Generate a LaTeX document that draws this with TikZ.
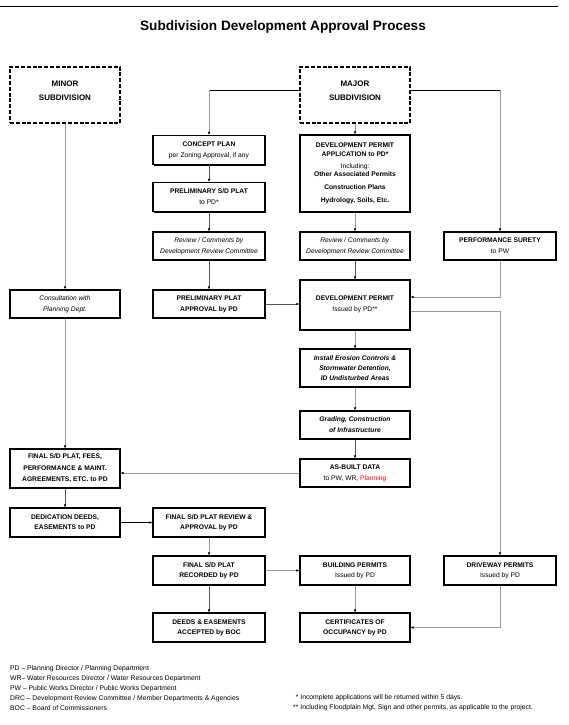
\documentclass[tikz,border=0pt]{standalone}
\usepackage{fontspec}
\setmainfont{Liberation Sans}
\usetikzlibrary{arrows.meta,shadows,positioning}
\definecolor{lnd}{HTML}{555555}
\definecolor{lnl}{HTML}{999999}
\begin{document}
\begin{tikzpicture}[x=1pt,y=-1pt,
  box/.style={draw=black, line width=1.1pt, fill=white, align=center, inner sep=1pt,
    font=\fontsize{6.7}{11}\selectfont,
    drop shadow={shadow xshift=1.1pt, shadow yshift=-1.1pt, fill=black, opacity=1}},
  dbox/.style={draw=black, line width=1.2pt, dash pattern=on 4pt off 1.8pt, fill=white,
    align=center, font=\fontsize{8}{14}\selectfont\bfseries,
    minimum width=110pt, minimum height=56pt, text depth=8pt},
  w1/.style={minimum width=112pt},
  w2/.style={minimum width=110pt},
  arr/.style={-{Latex[length=3pt,width=2.6pt,color=black]}, line width=0.7pt},
  dk/.style={draw=lnd},
  lt/.style={draw=lnl},
  bk/.style={draw=black}
]
\useasboundingbox (0,0) rectangle (568,725);
\fill[white] (0,0) rectangle (568,725);
\draw[line width=0.8pt] (0,6) -- (558,6);
\node[font=\fontsize{13.6}{15}\selectfont\bfseries] (title) at (283,27) {Subdivision Development Approval Process};

% dashed start boxes
\node[dbox] (minor) at (65,95) {MINOR\\SUBDIVISION};
\node[dbox] (major) at (355,95) {MAJOR\\SUBDIVISION};

% left-middle column
\node[box,w1,minimum height=29pt] (concept) at (209,150) {\textbf{CONCEPT PLAN}\\per Zoning Approval, if any};
\node[box,w1,minimum height=29pt] (prelim) at (209,197) {\textbf{PRELIMINARY S/D PLAT}\\to PD*};
\node[box,w1,minimum height=28pt] (revL) at (209,246) {\textit{Review / Comments by}\\\textit{Development Review Committee}};
\node[box,w1,minimum height=28pt] (papp) at (209,304) {\textbf{PRELIMINARY PLAT}\\\textbf{APPROVAL by PD}};

% middle column
\node[box,w2,minimum height=77pt,font=\fontsize{6.7}{9.5}\selectfont] (devapp) at (355,173.5) {\textbf{DEVELOPMENT PERMIT}\\\textbf{APPLICATION to PD*}\\[2pt]Including:\\[-1pt]\textbf{Other Associated Permits}\\[3pt]\textbf{Construction Plans}\\[4pt]\textbf{Hydrology, Soils, Etc.}};
\node[box,w2,minimum height=28pt] (revR) at (355,246) {\textit{Review / Comments by}\\\textit{Development Review Committee}};
\node[box,w2,minimum height=50pt,text depth=3pt] (devp) at (355,305) {\textbf{DEVELOPMENT PERMIT}\\Issued by PD**};
\node[box,w2,minimum height=38pt,font=\fontsize{6.7}{10}\selectfont] (eros) at (355,368) {\textbf{\textit{Install Erosion Controls \&}}\\\textbf{\textit{Stormwater Detention,}}\\\textbf{\textit{ID Undisturbed Areas}}};
\node[box,w2,minimum height=28pt] (grad) at (355,425) {\textbf{\textit{Grading, Construction}}\\\textbf{\textit{of Infrastructure}}};
\node[box,w2,minimum height=28pt] (asb) at (355,473) {\textbf{AS-BUILT DATA}\\to PW, WR, \textcolor{red}{Planning}};

% right column
\node[box,w1,minimum height=28pt] (surety) at (500,246) {\textbf{PERFORMANCE SURETY}\\to PW};

% left column
\node[box,w2,minimum height=28pt] (consult) at (65,304) {\textit{Consultation with}\\\textit{Planning Dept.}};
\node[box,w2,minimum height=39pt,font=\fontsize{6.7}{11.5}\selectfont\bfseries] (final) at (65,468.5) {FINAL S/D PLAT, FEES,\\PERFORMANCE \& MAINT.\\AGREEMENTS, ETC. to PD};
\node[box,w2,minimum height=29pt,font=\fontsize{6.7}{10}\selectfont\bfseries] (dedic) at (65,522.5) {DEDICATION DEEDS,\\EASEMENTS to PD};

% bottom rows
\node[box,w1,minimum height=29pt,font=\fontsize{6.7}{10}\selectfont\bfseries] (frev) at (209,522.5) {FINAL S/D PLAT REVIEW \&\\APPROVAL by PD};
\node[box,w1,minimum height=29pt,font=\fontsize{6.7}{10}\selectfont] (frec) at (209,570.5) {\textbf{FINAL S/D PLAT}\\\textbf{RECORDED by PD}};
\node[box,w2,minimum height=29pt,font=\fontsize{6.7}{10}\selectfont] (bldg) at (355,570.5) {\textbf{BUILDING PERMITS}\\Issued by PD};
\node[box,w1,minimum height=29pt,font=\fontsize{6.7}{10}\selectfont] (drive) at (500,570.5) {\textbf{DRIVEWAY PERMITS}\\Issued by PD};
\node[box,w1,minimum height=29pt,font=\fontsize{6.7}{10}\selectfont\bfseries] (deeds) at (209,627.5) {DEEDS \& EASEMENTS\\ACCEPTED by BOC};
\node[box,w2,minimum height=29pt,font=\fontsize{6.7}{10}\selectfont\bfseries] (cert) at (355,627.5) {CERTIFICATES OF\\OCCUPANCY by PD};

% connectors from start boxes
\coordinate (mjL) at (209,90);
\coordinate (mjR) at (500,90);
\draw[bk,line width=0.7pt] (major.west |- mjL) -- (mjL);
\draw[bk,line width=0.7pt] (major.east |- mjR) -- (mjR);
\draw[arr,lt] (mjL) -- (concept.north);
\draw[arr,lt] (mjR) -- (surety.north);
\draw[arr,lt] (major.south) -- (devapp.north);
\draw[arr,lt] (minor.south) -- (consult.north);

% left-middle column
\draw[arr,dk] (concept) -- (prelim);
\draw[arr,dk] (prelim) -- (revL);
\draw[arr,dk] (revL) -- (papp);
\draw[arr,dk] (papp.east) -- (devp.west |- papp.east);

% middle column
\draw[arr,lt] (devapp) -- (revR);
\draw[arr,dk] (revR) -- (devp);
\draw[arr,lt] (devp) -- (eros);
\draw[arr,lt] (eros) -- (grad);
\draw[arr,dk] (grad) -- (asb);

% surety and driveway links
\coordinate (sK) at (500,297);
\draw[arr,lt] (surety.south) -- (sK) -- (devp.east |- sK);
\coordinate (dK) at (500,311);
\draw[arr,lt] (devp.east |- dK) -- (dK) -- (drive.north);

% as-built to final
\draw[arr,lt] (asb.west) -- (final.east |- asb.west);
\draw[arr,lt] (consult.south) -- (final.north);
\draw[arr,dk] (final) -- (dedic);
\draw[arr,bk] (dedic) -- (frev);
\draw[arr,lt] (frev) -- (frec);
\draw[arr,dk] (frec) -- (deeds);
\draw[arr,lt] (frec) -- (bldg);
\draw[arr,lt] (bldg) -- (cert);
\coordinate (cK) at (500,627.5);
\draw[arr,lt] (drive.south) -- (cK) -- (cert.east);

% legend
\node[anchor=west, align=left, font=\fontsize{6.8}{10}\selectfont, inner sep=0pt] (legend) at (10,688)
  {PD -- Planning Director / Planning Department\\
   WR-- Water Resources Director / Water Resources Department\\
   PW -- Public Works Director / Public Works Department\\
   DRC -- Development Review Committee / Member Departments \& Agencies\\
   BOC -- Board of Commissioners};
\node[anchor=west, align=left, font=\fontsize{6.8}{10}\selectfont, inner sep=0pt] (notes) at (293,703)
  {\phantom{*}* Incomplete applications will be returned within 5 days.\\
   ** Including Floodplain Mgt, Sign and other permits, as applicable to the project.};
\end{tikzpicture}
\end{document}
